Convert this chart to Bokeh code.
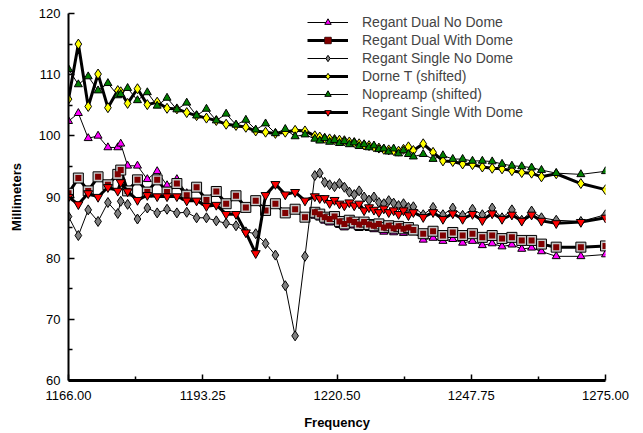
from bokeh.plotting import figure
from bokeh.models import FixedTicker, PrintfTickFormatter, Legend, LegendItem
from bokeh.embed import file_html
from bokeh.resources import INLINE

frequency = [1166, 1168, 1170, 1172, 1174, 1176, 1176.6, 1178, 1180, 1182, 1184, 1186, 1188, 1190,
             1192, 1194, 1196, 1198, 1200, 1202, 1204, 1206, 1208, 1210, 1212, 1214,
             1216, 1217, 1218, 1219, 1220, 1221, 1222, 1223, 1224, 1225, 1226, 1227, 1228, 1229,
             1230, 1231, 1232, 1233, 1234, 1235, 1236,
             1238, 1240, 1242, 1244, 1246, 1248, 1250, 1252, 1254, 1256, 1258, 1260, 1262,
             1265, 1270, 1275]

regant_dual_no_dome = [102.4, 103.7, 99.6, 100.0, 98.1, 98.1, 98.7, 95.1, 95.1, 92.9, 94.2, 91.9, 92.9, 90.6,
                       91.4, 89.3, 90.7, 88.7, 90.0, 88.1, 89.2, 87.6, 88.7, 87.2, 87.8, 86.5,
                       86.9, 86.6, 86.1, 85.8, 86.2, 85.4, 85.0, 85.6, 85.3, 84.9, 85.3, 84.9, 84.7, 85.0,
                       84.3, 84.7, 84.2, 84.6, 84.1, 84.4, 84.2,
                       83.0, 83.3, 82.8, 83.1, 82.5, 82.8, 82.1, 82.4, 81.9, 82.2, 81.5, 81.7, 81.1,
                       80.3, 80.3, 80.6]

regant_dual_with_dome = [90.6, 93.1, 91.0, 93.3, 92.0, 93.7, 94.4, 91.0, 92.8, 90.8, 92.8, 90.8, 92.2, 90.3,
                         91.6, 89.5, 90.9, 88.9, 90.2, 88.3, 89.4, 87.8, 88.9, 87.4, 88.0, 86.7,
                         87.5, 87.2, 86.7, 86.4, 86.8, 86.0, 85.6, 86.2, 85.9, 85.5, 85.9, 85.5, 85.3, 85.6,
                         85.0, 85.3, 84.9, 85.2, 84.8, 85.0, 84.6,
                         84.0, 84.4, 83.7, 84.2, 83.7, 84.0, 83.4, 83.7, 83.2, 83.4, 82.9, 82.9, 82.3,
                         81.8, 81.8, 82.0]

regant_single_no_dome = [86.8, 83.7, 87.9, 86.0, 89.1, 87.3, 89.3, 88.8, 86.4, 88.2, 87.4, 88.0, 87.4, 87.5,
                         86.6, 86.6, 86.1, 85.7, 85.3, 84.3, 84.0, 82.4, 80.5, 75.5, 67.3, 80.3,
                         93.5, 93.9, 92.4, 92.0, 91.7, 92.2, 91.6, 90.8, 90.4, 91.0, 90.0, 89.5, 90.0, 89.1,
                         88.9, 89.4, 89.0, 88.6, 88.9, 88.3, 88.4,
                         87.1, 88.3, 87.1, 88.2, 87.0, 88.0, 87.1, 88.2, 86.6, 87.9, 86.2, 87.7, 86.6,
                         86.2, 86.0, 87.1]

dorne_t_shifted = [106.0, 115.0, 104.8, 110.1, 104.6, 107.4, 107.2, 105.3, 107.7, 105.1, 105.5, 104.5, 104.4, 103.8,
                   103.3, 102.9, 102.5, 101.9, 101.7, 101.4, 100.8, 100.6, 100.4, 100.6, 100.9, 100.8,
                   100.0, 99.8, 99.6, 99.5, 99.4, 99.3, 99.2, 99.0, 98.9, 98.7, 98.5, 98.4, 98.2, 98.0,
                   97.8, 97.7, 97.6, 97.5, 97.8, 98.2, 97.6,
                   98.7, 97.3, 95.9, 95.8, 95.4, 95.3, 94.9, 94.7, 94.6, 94.3, 94.0, 93.9, 93.3,
                   93.8, 92.2, 91.2]

nopreamp_shifted = [110.9, 108.4, 109.7, 107.4, 108.6, 106.6, 106.8, 107.8, 105.8, 107.1, 104.9, 106.2, 104.3, 105.4,
                    103.3, 104.4, 102.5, 103.6, 101.8, 102.6, 101.0, 102.0, 100.4, 101.1, 99.9, 100.2,
                    99.5, 99.2, 99.6, 99.0, 99.3, 98.8, 99.1, 98.6, 98.9, 98.3, 98.6, 98.1, 98.4, 97.8,
                    97.9, 97.4, 97.9, 97.1, 97.6, 97.0, 96.6,
                    97.0, 96.2, 96.8, 96.2, 96.2, 95.9, 95.9, 95.8, 95.4, 95.1, 95.0, 94.8, 94.4,
                    93.9, 93.7, 94.2]

regant_single_with_dome = [90.0, 88.8, 90.6, 90.0, 91.6, 91.0, 92.4, 90.9, 89.5, 90.3, 90.1, 90.1, 90.1, 89.4,
                           89.4, 88.5, 88.7, 87.2, 87.2, 84.2, 80.8, 90.3, 92.1, 90.4, 90.8, 89.4,
                           90.1, 89.8, 89.8, 89.0, 89.5, 88.9, 88.6, 89.1, 88.6, 88.9, 87.8, 88.3, 87.9, 87.5,
                           88.1, 87.5, 87.8, 87.2, 87.8, 87.0, 87.5,
                           86.7, 87.5, 86.4, 87.3, 86.4, 87.2, 86.2, 87.3, 86.4, 87.1, 86.1, 87.1, 86.1,
                           85.7, 85.9, 86.6]

x_ticks = [1166.0, 1193.25, 1220.5, 1247.75, 1275.0]
x_minor_ticks = [1179.625, 1206.875, 1234.125, 1261.375]
y_ticks = [60, 70, 80, 90, 100, 110, 120]
y_minor_ticks = [65, 75, 85, 95, 105, 115]

FONT = "Liberation Sans"

p = figure(width=643, height=433, x_range=(1166, 1275), y_range=(60, 120),
           output_backend="svg", toolbar_location=None,
           min_border_left=68, min_border_right=38, min_border_top=13, min_border_bottom=53)
p.xgrid.visible = False
p.ygrid.visible = False
p.outline_line_color = None
p.background_fill_color = "white"

series = [
    ("Regant Dual No Dome", regant_dual_no_dome, 1, "triangle", "#FF00FF", 8),
    ("Regant Dual With Dome", regant_dual_with_dome, 3, "square", "#800000", 9),
    ("Regant Single No Dome", regant_single_no_dome, 1, "diamond", "#808080", 10),
    ("Dorne T (shifted)", dorne_t_shifted, 3, "diamond", "#FFFF00", 10),
    ("Nopreamp (shifted)", nopreamp_shifted, 1, "triangle", "#008000", 8),
    ("Regant Single With Dome", regant_single_with_dome, 3, "inverted_triangle", "#FF0000", 9),
]

items = []
for name, ys, lw, marker, color, size in series:
    r1 = p.line(frequency, ys, line_color="black", line_width=lw)
    if marker == "square":
        r2 = p.scatter(frequency, ys, marker="square", size=size + 1, fill_color="#C8C8C8",
                       line_color="black", line_width=1)
        r3 = p.scatter(frequency, ys, marker="square", size=size - 3, fill_color=color,
                       line_color=None)
        items.append(LegendItem(label=name, renderers=[r1, r2, r3]))
    else:
        r2 = p.scatter(frequency, ys, marker=marker, size=size, fill_color=color,
                       line_color="black", line_width=1)
        items.append(LegendItem(label=name, renderers=[r1, r2]))

# legend kept inside the frame (annotations are clipped to it)
legend = Legend(items=items, location=(239, 260), border_line_color=None,
                background_fill_alpha=0, label_text_font=FONT, label_text_font_size="14px",
                glyph_width=41, glyph_height=16, label_height=16, spacing=2, padding=0,
                label_standoff=14, margin=0)
p.add_layout(legend)

p.xaxis.ticker = FixedTicker(ticks=x_ticks, minor_ticks=x_minor_ticks)
p.xaxis.formatter = PrintfTickFormatter(format="%.2f")
p.yaxis.ticker = FixedTicker(ticks=y_ticks, minor_ticks=y_minor_ticks)

for ax in (p.xaxis[0], p.yaxis[0]):
    ax.major_tick_in = 6
    ax.major_tick_out = 0
    ax.minor_tick_in = 4
    ax.minor_tick_out = 0
    ax.major_tick_line_width = 1.5
    ax.minor_tick_line_width = 1.5
    ax.major_label_text_font = FONT
    ax.major_label_text_font_size = "13px"
    ax.major_label_text_color = "black"
    ax.axis_label_text_font = FONT
    ax.axis_label_text_font_size = "13px"
    ax.axis_label_text_font_style = "bold"
    ax.axis_label_text_color = "black"
    ax.axis_line_color = "black"

p.xaxis.axis_line_width = 3
p.yaxis.axis_line_width = 2
p.xaxis.axis_label = "Frequency"
p.yaxis.axis_label = "Millimeters"
p.xaxis.major_label_standoff = 10
p.xaxis.axis_label_standoff = 12
p.yaxis.major_label_standoff = 8
p.yaxis.axis_label_standoff = 12

open("out.html", "w").write(file_html(p, INLINE))
